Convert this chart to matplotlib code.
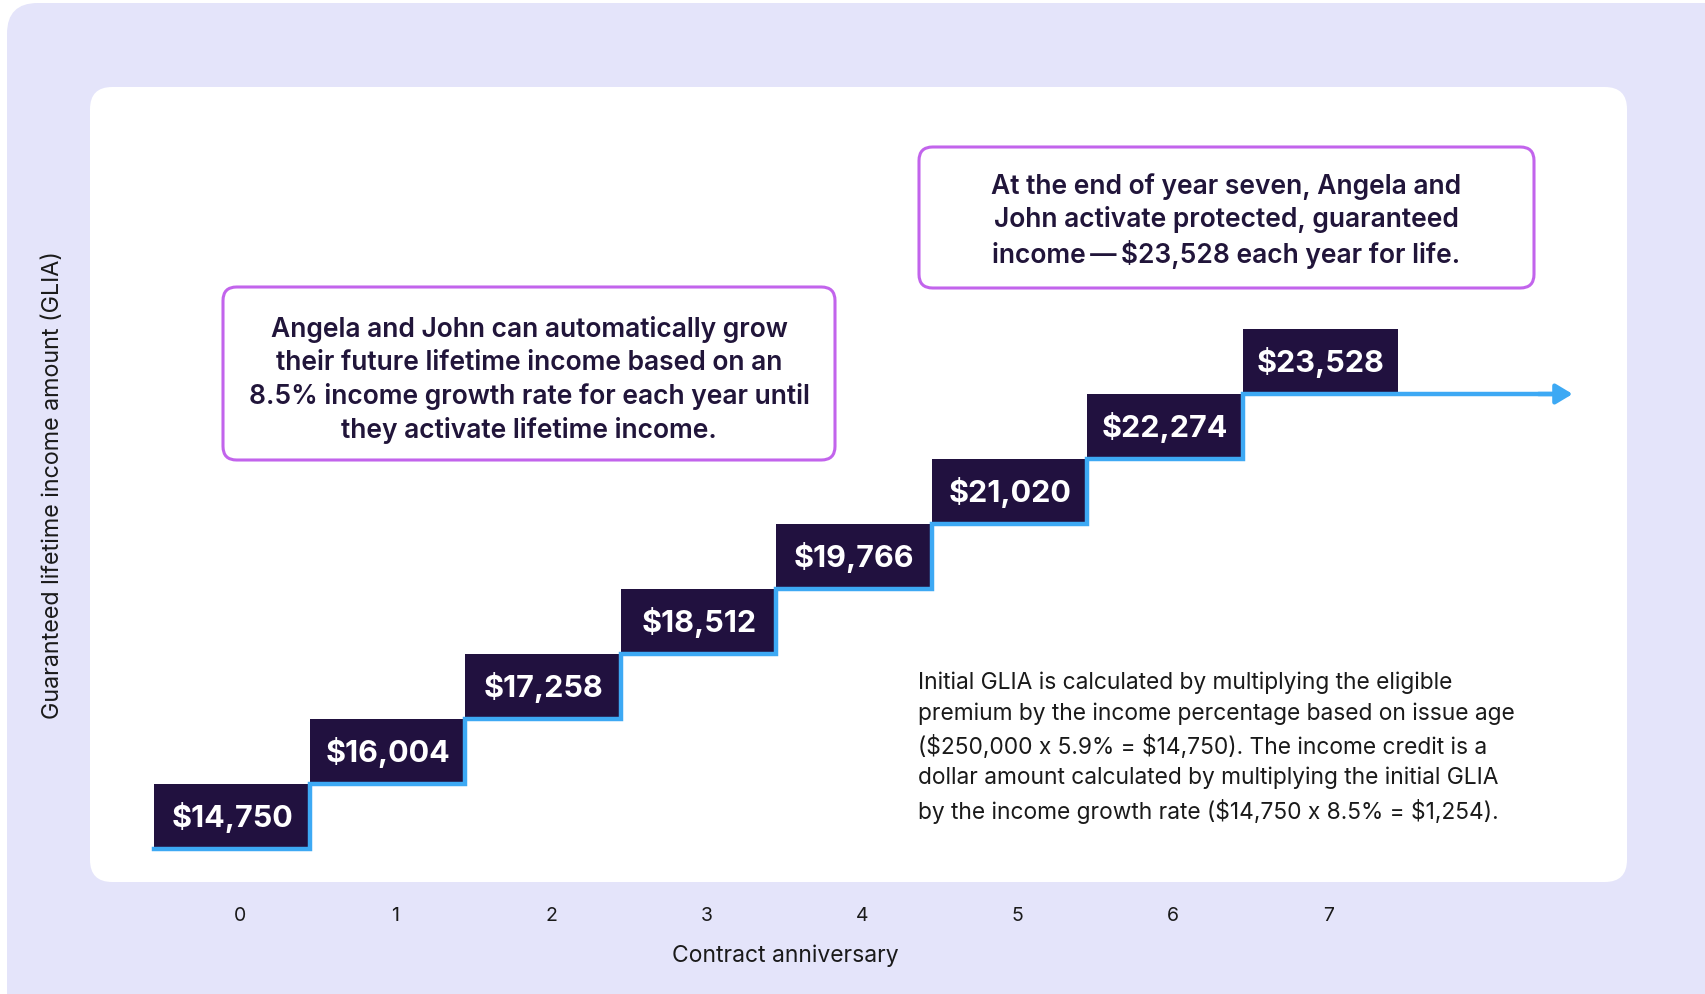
import matplotlib
matplotlib.use("Agg")
import matplotlib.pyplot as plt
from matplotlib.patches import FancyBboxPatch
import numpy as np

# ---------------- data ----------------
anniversaries = [0, 1, 2, 3, 4, 5, 6, 7]
glia_values = [14750, 16004, 17258, 18512, 19766, 21020, 22274, 23528]
value_labels = ["$14,750", "$16,004", "$17,258", "$18,512",
                "$19,766", "$21,020", "$22,274", "$23,528"]
income_credit = 1254
tick_labels = ["0", "1", "2", "3", "4", "5", "6", "7"]
x_label = "Contract anniversary"
y_label = "Guaranteed lifetime income amount (GLIA)"
note_left = ("Angela and John can automatically grow\n"
             "their future lifetime income based on an\n"
             "8.5% income growth rate for each year until\n"
             "they activate lifetime income.")
note_right = ("At the end of year seven, Angela and\n"
              "John activate protected, guaranteed\n"
              "income\u2009\u2014\u2009$23,528 each year for life.")
note_bottom = ("Initial GLIA is calculated by multiplying the eligible\n"
               "premium by the income percentage based on issue age\n"
               "($250,000 x 5.9% = $14,750). The income credit is a\n"
               "dollar amount calculated by multiplying the initial GLIA\n"
               "by the income growth rate ($14,750 x 8.5% = $1,254).")

# ---------------- style ----------------
W, H = 1705, 995
DPI = 100
LAV = "#E4E4FA"
DARK = "#21113F"
BLUE = "#3DA9F4"
PURPLE = "#C264EC"
TXT = "#21153A"
plt.rcParams['font.family'] = ['Inter', 'DejaVu Sans']
plt.rcParams['text.parse_math'] = False

fig = plt.figure(figsize=(W / DPI, H / DPI), dpi=DPI)
fig.patch.set_facecolor("white")

def fx(px):
    return px / W

def fy(py):
    return 1 - py / H

# outer lavender panel
bg = FancyBboxPatch((fx(7), fy(1030)), fx(1740) - fx(7), fy(4) - fy(1030),
                    boxstyle="round,pad=0,rounding_size=0.018",
                    transform=fig.transFigure, facecolor=LAV, edgecolor="none",
                    mutation_aspect=W / H, zorder=0)
fig.patches.append(bg)
# white inner panel
wp = FancyBboxPatch((fx(90), fy(883)), fx(1627) - fx(90), fy(88) - fy(883),
                    boxstyle="round,pad=0,rounding_size=0.013",
                    transform=fig.transFigure, facecolor="white", edgecolor="none",
                    mutation_aspect=W / H, zorder=1)
fig.patches.append(wp)

# axes: pixel mapping x_px = 240 + 155.5*x ; y_px = 850 - (v-14750)*65/1254
ax_l, ax_r, ax_t, ax_b = 90, 1627, 88, 895
ax = fig.add_axes([fx(ax_l), fy(ax_b), fx(ax_r) - fx(ax_l), fy(ax_t) - fy(ax_b)])
ax.patch.set_alpha(0)
ax.set_zorder(2)
xs = 155.5
ys = 65 / 1254
ax.set_xlim((ax_l - 240) / xs, (ax_r - 240) / xs)
ax.set_ylim(14750 - (ax_b - 850) / ys, 14750 + (850 - ax_t) / ys)
for s in ax.spines.values():
    s.set_visible(False)
ax.set_yticks([])
ax.set_xticks(anniversaries)
ax.set_xticklabels(tick_labels, fontsize=14, color="#1a1a1a")
ax.tick_params(axis="x", length=0, pad=9)
ax.set_xlabel(x_label, fontsize=16.5, color="#1a1a1a")
ax.xaxis.set_label_coords((785 - ax_l) / (ax_r - ax_l), -(956 - ax_b) / (ax_b - ax_t))
ax.xaxis.label.set_va("center")

x = np.array(anniversaries, dtype=float)
v = np.array(glia_values, dtype=float)
off = -0.05
ax.bar(x + off, income_credit, width=1.0, bottom=v, color=DARK, zorder=3)
for xi, vi, lab in zip(x, v, value_labels):
    ax.text(xi + off, vi + income_credit / 2, lab, ha="center", va="center",
            color="white", fontsize=22, fontweight="bold", zorder=5)

# blue step line
sx = [x[0] + off - 0.5]
sy = [v[0]]
for i in range(len(x) - 1):
    edge = x[i] + off + 0.5
    sx += [edge, edge]
    sy += [v[i], v[i + 1]]
sx.append(x[-1] + off + 1.55)
sy.append(v[-1])
ax.plot(sx, sy, color=BLUE, lw=3.2, solid_joinstyle="miter", zorder=4)
ax.annotate("", xy=(x[-1] + off + 1.62, v[-1]), xytext=(x[-1] + off + 1.4, v[-1]),
            arrowprops=dict(arrowstyle="-|>,head_length=1.0,head_width=0.6",
                            color=BLUE, lw=3.2, shrinkA=0, shrinkB=0), zorder=4)

# y label
fig.text(fx(53), fy(485), y_label, rotation=90, ha="center", va="center",
         fontsize=16.8, color="#1a1a1a", zorder=5)

# annotation boxes
def note_box(l, t, r, b):
    p = FancyBboxPatch((fx(l), fy(b)), fx(r) - fx(l), fy(t) - fy(b),
                       boxstyle="round,pad=0,rounding_size=0.008",
                       transform=fig.transFigure, facecolor="white",
                       edgecolor=PURPLE, lw=2.2, mutation_aspect=W / H, zorder=3)
    fig.patches.append(p)

note_box(223, 288, 835, 461)
fig.text(fx(529), fy(380), note_left, ha="center", va="center", fontsize=19,
         fontweight="semibold", color=TXT, linespacing=1.33, zorder=6)
note_box(919, 148, 1534, 289)
fig.text(fx(1226), fy(221), note_right, ha="center", va="center", fontsize=19,
         fontweight="semibold", color=TXT, linespacing=1.3, zorder=6)

fig.text(fx(918), fy(748), note_bottom, ha="left", va="center", fontsize=16.4,
         color="#1a1a1a", linespacing=1.48, zorder=6)

fig.savefig("out.png", dpi=DPI, facecolor=fig.get_facecolor())
